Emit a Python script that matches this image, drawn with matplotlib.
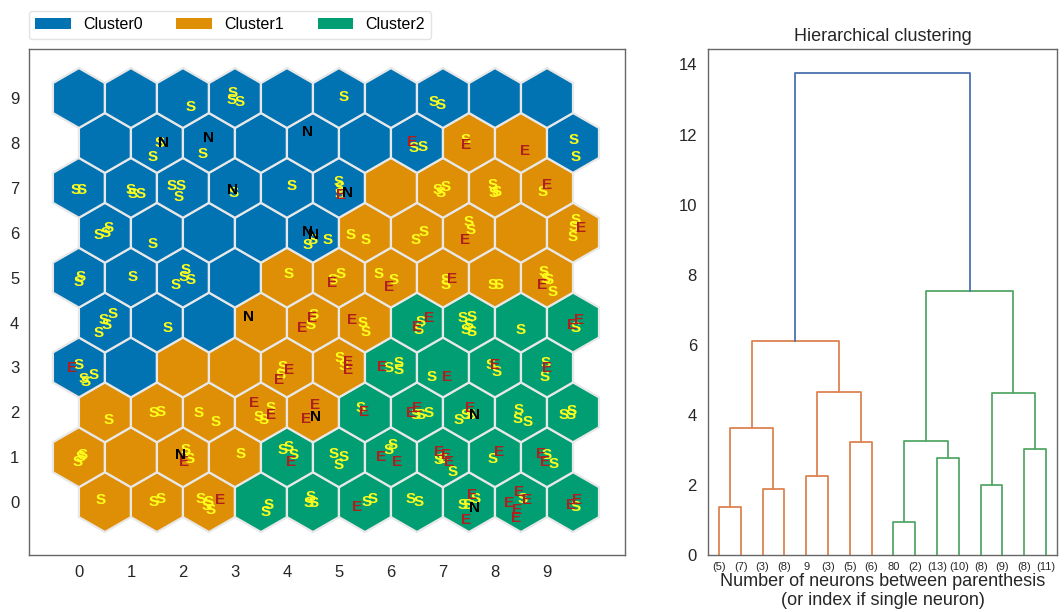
import matplotlib
matplotlib.use("Agg")
import matplotlib.pyplot as plt
from matplotlib.patches import RegularPolygon, Patch
import numpy as np

plt.rcParams['font.family'] = ['Liberation Sans', 'DejaVu Sans']

# ---------------- data ----------------
cluster_names = ["Cluster0", "Cluster1", "Cluster2"]
cluster_colors = ["#0173B2", "#DE8F05", "#029E73"]

# cluster of each SOM neuron, row 0 (bottom) first, columns 0..9
cluster_rows = [
    [1, 1, 1, 2, 2, 2, 2, 2, 2, 2],
    [1, 1, 1, 1, 2, 2, 2, 2, 2, 2],
    [1, 1, 1, 1, 1, 2, 2, 2, 2, 2],
    [0, 0, 1, 1, 1, 1, 2, 2, 2, 2],
    [0, 0, 0, 1, 1, 1, 2, 2, 2, 2],
    [0, 0, 0, 0, 1, 1, 1, 1, 1, 1],
    [0, 0, 0, 0, 0, 1, 1, 1, 1, 1],
    [0, 0, 0, 0, 0, 0, 1, 1, 1, 1],
    [0, 0, 0, 0, 0, 0, 0, 1, 1, 0],
    [0, 0, 0, 0, 0, 0, 0, 0, 0, 0],
]

# projected samples (x in column units, y in row units)
S_x = [2.15, 2.96, 2.94, 3.10, 5.10, 6.83, 6.96,
       1.56, 1.41, 2.37, 6.44, 6.60, 7.44, 9.52, 9.55,
       -0.06, 0.06, 0.99, 1.03, 1.19, 1.79, 1.96, 1.92, 2.98, 4.10, 5.00, 5.02, 5.02,
       6.89, 7.05, 6.96, 7.95, 8.04, 7.98, 8.91,
       0.38, 0.51, 0.58, 1.41, 4.39, 4.49, 4.78, 5.22, 5.51, 6.48, 6.63, 7.50, 7.53,
       9.55, 9.52, 9.50,
       0.03, 0.00, 1.03, 2.05, 2.02, 2.15, 1.86, 4.04, 4.87, 5.03, 5.77, 6.06, 7.05,
       7.05, 7.95, 8.08, 8.94, 8.97, 9.04, 9.10,
       0.64, 0.48, 0.54, 0.38, 1.70, 4.46, 4.52, 5.45, 5.51, 6.57, 6.54, 7.37, 7.56,
       7.44, 7.56, 7.50, 8.49, 9.55,
       0.00, 0.10, 0.13, 0.29, 3.91, 3.88, 5.02, 5.10, 5.96, 6.15, 6.15, 6.79, 7.92,
       8.04, 8.97, 8.96,
       0.58, 1.44, 1.57, 2.31, 2.63, 3.69, 3.46, 3.56, 5.42, 6.48, 6.57, 6.73, 7.31,
       7.44, 7.53, 8.46, 8.43, 8.62, 9.33, 9.46, 9.48,
       0.03, -0.03, 0.08, 2.05, 2.12, 3.11, 3.91, 4.04, 4.13, 4.90, 5.10, 5.00, 5.96,
       6.03, 6.99, 7.18, 6.92, 7.95, 9.13, 9.00,
       0.42, 1.44, 1.57, 2.34, 2.50, 2.53, 2.46, 3.59, 3.65, 4.46, 4.42, 4.52, 5.54,
       5.64, 6.38, 6.54, 7.37, 7.47, 7.63, 8.53, 9.55]
S_y = [8.80, 9.11, 8.95, 8.91, 9.03, 8.92, 8.84,
       8.00, 7.69, 7.75, 7.88, 7.90, 8.06, 8.06, 7.69,
       6.95, 6.95, 6.95, 6.86, 6.86, 7.04, 7.04, 6.80, 6.88, 7.04, 7.13, 6.99, 6.86,
       6.95, 7.02, 6.88, 7.06, 6.91, 6.88, 6.91,
       5.95, 6.00, 6.10, 5.76, 5.72, 5.84, 5.84, 5.95, 5.84, 5.84, 6.02, 6.24, 6.06,
       6.28, 6.13, 5.90,
       5.02, 4.91, 5.02, 5.17, 5.02, 4.94, 4.83, 5.09, 4.94, 5.09, 5.09, 4.94, 4.94,
       4.83, 4.83, 4.83, 5.13, 4.98, 4.94, 4.68,
       4.20, 4.05, 3.94, 3.76, 3.87, 3.94, 4.16, 3.98, 3.79, 4.02, 3.83, 4.09, 4.13,
       3.83, 3.79, 3.94, 3.83, 3.87,
       3.05, 2.75, 2.68, 2.83, 3.01, 2.83, 3.21, 3.03, 2.98, 3.09, 2.94, 2.79, 3.05,
       2.90, 3.09, 2.79,
       1.83, 1.98, 2.01, 1.98, 1.79, 2.09, 1.90, 1.83, 2.09, 1.94, 1.94, 1.98, 1.83,
       1.94, 1.94, 2.05, 1.86, 1.79, 1.94, 1.94, 2.03,
       1.01, 0.90, 1.05, 1.16, 0.97, 1.08, 1.16, 1.23, 1.05, 1.08, 1.01, 0.82, 1.16,
       1.27, 0.97, 0.67, 0.94, 0.97, 0.86, 1.05,
       0.04, 0.01, 0.08, 0.08, 0.01, -0.18, -0.09, -0.22, -0.07, 0.12, -0.03, -0.03, 0.01,
       0.08, 0.08, 0.01, -0.07, -0.07, 0.08, 0.08, -0.10]

E_x = [6.41, 7.44, 8.58, 5.04, 9.01, 7.42, 9.65, 4.87, 5.96, 7.17, 8.91,
       4.29, 4.49, 5.26, 6.51, 6.73, 9.49, 9.62,
       -0.13, 4.04, 3.85, 5.17, 5.17, 5.83, 7.08, 8.01, 9.01,
       3.37, 3.69, 4.55, 4.36, 5.48, 6.38, 6.51, 7.53,
       2.02, 4.07, 5.80, 6.12, 6.92, 7.05, 7.12, 8.08, 8.88, 8.97,
       2.72, 5.35, 7.56, 7.44, 8.46, 8.27, 8.62, 8.43, 8.40, 9.46, 9.58]
E_y = [8.02, 7.95, 7.82, 6.84, 7.06, 5.84, 6.10, 4.87, 4.80, 4.98, 4.83,
       3.87, 4.09, 4.05, 3.90, 4.09, 3.94, 4.05,
       2.98, 2.94, 2.72, 3.12, 2.94, 3.01, 2.79, 3.05, 2.98,
       2.20, 1.94, 2.16, 1.86, 2.01, 1.98, 2.09, 2.09,
       0.90, 0.90, 1.01, 0.90, 1.12, 1.05, 0.90, 1.12, 1.08, 0.90,
       0.04, -0.10, 0.16, -0.40, 0.23, -0.03, 0.04, -0.18, -0.36, -0.07, 0.04]

N_x = [1.62, 2.50, 4.39, 2.95, 5.16, 4.39, 4.52, 3.27, 4.55, 7.60, 1.96, 7.60]
N_y = [8.00, 8.10, 8.25, 6.96, 6.89, 6.02, 5.95, 4.13, 1.90, 1.94, 1.05, -0.14]

letter_labels = ["S", "E", "N"]
letter_colors = ["#FFFF1A", "#B01E1E", "black"]

# dendrogram
leaf_labels = ["(5)", "(7)", "(3)", "(8)", "9", "(3)", "(5)", "(6)",
               "80", "(2)", "(13)", "(10)", "(8)", "(9)", "(8)", "(11)"]
merge_left = [0, 2, 16, 4, 6, 19, 18, 8, 10, 23, 12, 14, 26, 25, 22]
merge_right = [1, 3, 17, 5, 7, 20, 21, 9, 11, 24, 13, 15, 27, 28, 29]
merge_height = [1.38, 1.88, 3.62, 2.25, 3.22, 4.64, 6.10,
                0.94, 2.76, 3.25, 1.99, 3.02, 4.62, 7.52, 13.75]
merge_group = [1, 1, 1, 1, 1, 1, 1, 2, 2, 2, 2, 2, 2, 2, 0]
link_colors = ["#4C72B0", "#DD8452", "#55A868"]

# ---------------- figure ----------------
fig = plt.figure(figsize=(10.64, 6.12), dpi=100)
ax = fig.add_axes([29 / 1064, 57 / 612, 596 / 1064, 506 / 612])
ax2 = fig.add_axes([708 / 1064, 57 / 612, 349 / 1064, 506 / 612])

h = np.sqrt(3) / 2
for r, row in enumerate(cluster_rows):
    for c, cl in enumerate(row):
        xc = c + (0.5 if r % 2 == 0 else 0.0)
        ax.add_patch(RegularPolygon((xc, r * h), numVertices=6, radius=1 / np.sqrt(3),
                                    orientation=0, facecolor=cluster_colors[cl],
                                    edgecolor="#e8e8e8", linewidth=1.6))

for lab, col, xs, ys in zip(letter_labels, letter_colors, [S_x, E_x, N_x], [S_y, E_y, N_y]):
    for x, y in zip(xs, ys):
        ax.text(x, y * h, lab, color=col, ha="center", va="center",
                fontsize=11, fontweight="bold")

ax.set_xlim(-0.96, 10.5)
ax.set_ylim(-1.02, 8.74)
ax.set_xticks(np.arange(10))
ax.set_yticks(np.arange(10) * h)
ax.set_yticklabels([str(i) for i in range(10)])
ax.tick_params(length=0, pad=7, labelsize=12, colors="#262626")
for s in ax.spines.values():
    s.set_color("#666666")
    s.set_linewidth(1.0)

handles = [Patch(facecolor=cluster_colors[i], label=cluster_names[i]) for i in range(3)]
leg = ax.legend(handles=handles, loc="lower left", bbox_to_anchor=(0.0, 1.02),
                ncol=3, fontsize=11.5, frameon=True, handlelength=2.2,
                columnspacing=2.1, borderaxespad=0.0)
leg.get_frame().set_edgecolor("#dddddd")

# dendrogram drawing
node_x = [5 + 10 * i for i in range(len(leaf_labels))]
node_h = [0.0] * len(leaf_labels)
for a, b, hh, g in zip(merge_left, merge_right, merge_height, merge_group):
    xa, xb = node_x[a], node_x[b]
    ax2.plot([xa, xa, xb, xb], [node_h[a], hh, hh, node_h[b]],
             color=link_colors[g], linewidth=1.3)
    node_x.append((xa + xb) / 2)
    node_h.append(hh)

ax2.set_xlim(0, 10 * len(leaf_labels))
ax2.set_ylim(0, 14.44)
ax2.set_xticks([5 + 10 * i for i in range(len(leaf_labels))])
ax2.set_xticklabels(leaf_labels, fontsize=8)
ax2.set_yticks(np.arange(0, 15, 2))
ax2.tick_params(axis="y", length=0, pad=8, labelsize=12, colors="#262626")
ax2.tick_params(axis="x", length=0, pad=5, colors="#262626")
ax2.set_title("Hierarchical clustering", fontsize=13, color="#262626", pad=6)
ax2.set_xlabel("Number of neurons between parenthesis\n(or index if single neuron)",
               fontsize=13, color="#262626", labelpad=1, linespacing=1.1)
for s in ax2.spines.values():
    s.set_color("#666666")
    s.set_linewidth(1.0)

fig.savefig("out.png", dpi=100)
